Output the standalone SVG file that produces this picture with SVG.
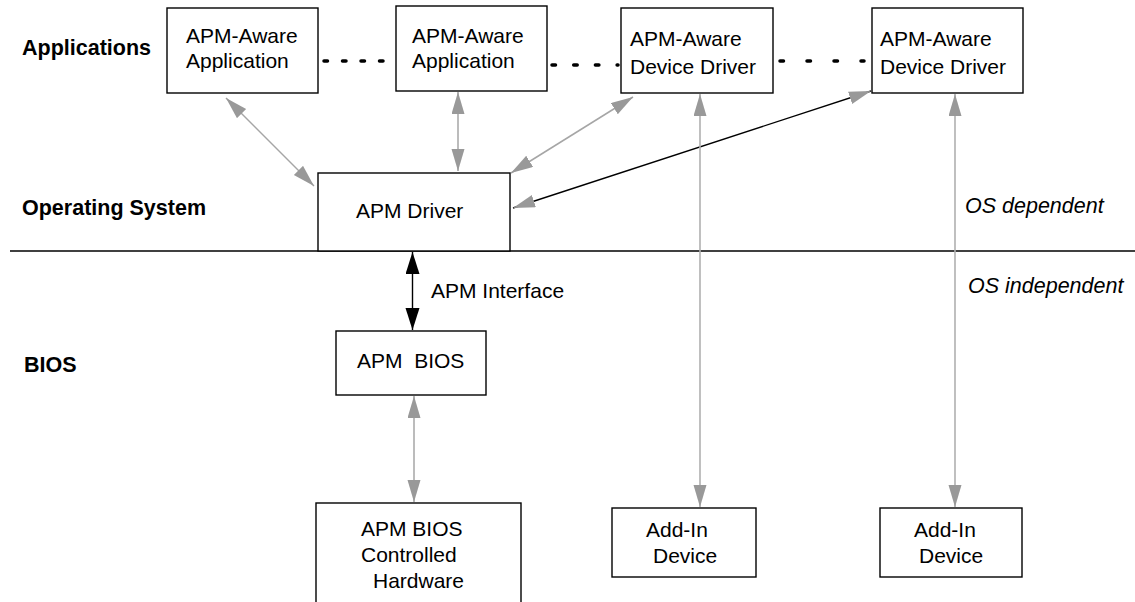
<svg xmlns="http://www.w3.org/2000/svg" width="1135" height="602" viewBox="0 0 1135 602">
<style>
.box{fill:#fff;stroke:#000;stroke-width:1.4}
.t{font-family:"Liberation Sans",Arial,Helvetica,sans-serif;font-size:21px;fill:#000}
.lbl{font-family:"Liberation Sans",Arial,Helvetica,sans-serif;font-size:21.5px;font-weight:bold;fill:#000}
.it{font-family:"Liberation Sans",Arial,Helvetica,sans-serif;font-size:21.5px;font-style:italic;fill:#000}
.g{stroke:#a6a6a6;stroke-width:1.5;fill:none}
.gl{stroke:#b0b0b0;stroke-width:1.6;fill:none}
.k{stroke:#000;stroke-width:1.4;fill:none}
.dot{stroke:#000;stroke-width:3.5;stroke-linecap:round;fill:none}
</style>
<defs>
<marker id="ag" markerUnits="userSpaceOnUse" markerWidth="24" markerHeight="14" refX="22" refY="6.5" orient="auto-start-reverse" viewBox="0 0 24 14">
<path d="M0,0 L22,6.5 L0,13 z" fill="#999"/>
</marker>
<marker id="ak" markerUnits="userSpaceOnUse" markerWidth="24" markerHeight="16" refX="22" refY="7" orient="auto-start-reverse" viewBox="0 0 24 16">
<path d="M0,0 L22,7 L0,14 z" fill="#000"/>
</marker>
</defs>
<rect width="1135" height="602" fill="#fff"/>

<g id="layers">
<line x1="10" y1="251" x2="1135" y2="251" stroke="#000" stroke-width="1.4"/>
<text class="lbl" x="22" y="55">Applications</text>
<text class="lbl" x="22" y="215">Operating System</text>
<text class="lbl" x="24" y="372">BIOS</text>
<text class="it" x="965" y="213">OS dependent</text>
<text class="it" x="968" y="293">OS independent</text>
</g>

<g id="connectors">
<line class="dot" x1="324" y1="61" x2="394" y2="61" stroke-dasharray="3.5 15"/>
<line class="dot" x1="552" y1="65" x2="618" y2="65" stroke-dasharray="3.5 18.2"/>
<line class="dot" x1="780" y1="61" x2="864" y2="61" stroke-dasharray="3.5 23.5"/>
<line class="g" x1="226" y1="98" x2="314" y2="186" marker-start="url(#ag)" marker-end="url(#ag)"/>
<line class="g" x1="458" y1="92" x2="458" y2="171" marker-start="url(#ag)" marker-end="url(#ag)"/>
<line class="g" x1="633" y1="97" x2="511" y2="173" marker-start="url(#ag)" marker-end="url(#ag)"/>
<line class="k" x1="871" y1="91" x2="513" y2="208" marker-start="url(#ag)" marker-end="url(#ag)"/>
<line class="gl" x1="700" y1="94" x2="700" y2="507" marker-start="url(#ag)" marker-end="url(#ag)"/>
<line class="gl" x1="955" y1="94" x2="955" y2="507" marker-start="url(#ag)" marker-end="url(#ag)"/>
<line class="k" x1="412.5" y1="252" x2="412.5" y2="330" marker-start="url(#ak)" marker-end="url(#ak)"/>
<text class="t" x="431" y="298">APM Interface</text>
<line class="g" x1="414" y1="396" x2="414" y2="502" marker-start="url(#ag)" marker-end="url(#ag)"/>
</g>

<g id="app1">
<rect class="box" x="167" y="8" width="151" height="85"/>
<text class="t" x="186" y="43">APM-Aware</text>
<text class="t" x="186" y="68">Application</text>
</g>
<g id="app2">
<rect class="box" x="396" y="6" width="151" height="85"/>
<text class="t" x="412" y="43">APM-Aware</text>
<text class="t" x="412" y="68">Application</text>
</g>
<g id="dd1">
<rect class="box" x="621" y="8" width="152" height="85"/>
<text class="t" x="630" y="46">APM-Aware</text>
<text class="t" x="630" y="74">Device Driver</text>
</g>
<g id="dd2">
<rect class="box" x="872" y="8" width="151" height="85"/>
<text class="t" x="880" y="46">APM-Aware</text>
<text class="t" x="880" y="74">Device Driver</text>
</g>
<g id="apmdriver">
<rect class="box" x="318" y="173" width="192" height="78"/>
<text class="t" x="356" y="218">APM Driver</text>
</g>
<g id="apmbios">
<rect class="box" x="336" y="331" width="150" height="64"/>
<text class="t" x="357" y="368" xml:space="preserve">APM  BIOS</text>
</g>
<g id="hardware">
<rect class="box" x="316" y="503" width="205" height="130"/>
<text class="t" x="361" y="536">APM BIOS</text>
<text class="t" x="361" y="562">Controlled</text>
<text class="t" x="373" y="588">Hardware</text>
</g>
<g id="addin1">
<rect class="box" x="612" y="508" width="144" height="69"/>
<text class="t" x="646" y="537">Add-In</text>
<text class="t" x="653" y="563">Device</text>
</g>
<g id="addin2">
<rect class="box" x="880" y="508" width="142" height="69"/>
<text class="t" x="914" y="537">Add-In</text>
<text class="t" x="919" y="563">Device</text>
</g>
</svg>
